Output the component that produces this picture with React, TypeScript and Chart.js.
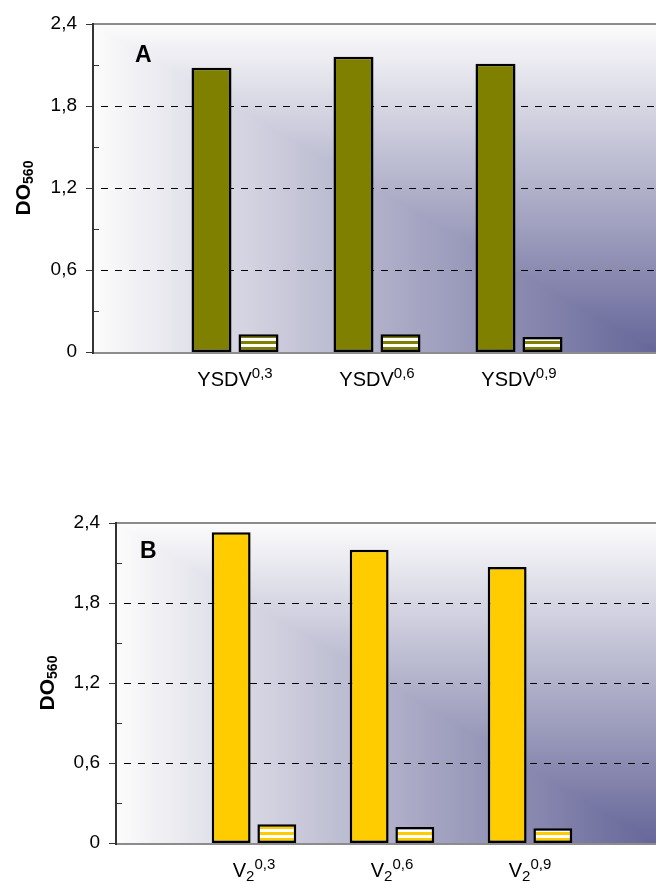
import React, { useEffect, useRef } from "react";
import { Chart, registerables } from "chart.js";

Chart.register(...registerables);

// ---------- data ----------
const categoryPositions = [1, 2, 3];

const categoriesA = ["YSDV", "YSDV", "YSDV"];
const categoriesASup = ["0,3", "0,6", "0,9"];
const seriesAMain = [2.08, 2.16, 2.11];
const seriesASmall = [0.13, 0.13, 0.11];

const categoriesB = ["V", "V", "V"];
const categoriesBSub = ["2", "2", "2"];
const categoriesBSup = ["0,3", "0,6", "0,9"];
const seriesBMain = [2.33, 2.2, 2.07];
const seriesBSmall = [0.14, 0.12, 0.11];

const yTickValues = [0, 0.6, 1.2, 1.8, 2.4];
const yTickLabels = ["0", "0,6", "1,2", "1,8", "2,4"];
const yMinorTicks = [0.3, 0.9, 1.5, 2.1];
const yGridValues = [0.6, 1.2, 1.8];
const yMax = 2.4;

const axisTitle = "DO";
const axisTitleSub = "560";

const FONT = '"Liberation Sans", Arial, Helvetica, sans-serif';

type Panel = {
  letter: string;
  letterX: number;
  letterY: number;
  left: number;
  top: number;
  bottom: number;
  canvasTop: number;
  canvasHeight: number;
  xMax: number;
  titleX: number;
  main: number[];
  small: number[];
  color: string;
  cat: string[];
  catSub: string[] | null;
  catSup: string[];
};

const panels: Panel[] = [
  {
    letter: "A",
    letterX: 135,
    letterY: 62,
    left: 93,
    top: 24,
    bottom: 352,
    canvasTop: 0,
    canvasHeight: 420,
    xMax: (656 - 93) / 142,
    titleX: 30,
    main: seriesAMain,
    small: seriesASmall,
    color: "#808000",
    cat: categoriesA,
    catSub: null,
    catSup: categoriesASup,
  },
  {
    letter: "B",
    letterX: 140,
    letterY: 558,
    left: 116,
    top: 523,
    bottom: 843,
    canvasTop: 440,
    canvasHeight: 443,
    xMax: (656 - 116) / 138,
    titleX: 54,
    main: seriesBMain,
    small: seriesBSmall,
    color: "#FFCC00",
    cat: categoriesB,
    catSub: categoriesBSub,
    catSup: categoriesBSup,
  },
];

function PanelChart({ p }: { p: Panel }) {
  const ref = useRef<HTMLCanvasElement>(null);
  useEffect(() => {
    const canvas = ref.current!;
    const c0 = canvas.getContext("2d")!;
    const bottomC = p.bottom - p.canvasTop;
    const topC = p.top - p.canvasTop;

    // striped pattern for the small bars
    const pc = document.createElement("canvas");
    pc.width = 4;
    pc.height = 6;
    const pctx = pc.getContext("2d")!;
    const last = Math.round(bottomC) - 3;
    for (let r = 0; r < 6; r++) {
      const k = (((last - r) % 6) + 6) % 6;
      pctx.fillStyle = k < 3 ? p.color : "#ffffff";
      pctx.fillRect(0, r, 4, 1);
    }
    const pattern = c0.createPattern(pc, "repeat")!;

    const decor = {
      id: "decor",
      beforeDatasetsDraw(chart: any) {
        const { ctx, chartArea: a } = chart;
        const ys = chart.scales.y;
        const L = a.left, T = a.top, R = a.right, B = a.bottom;
        const cStart = "#fcfcfc";
        const cEnd = "#666699";
        ctx.save();
        const gv = ctx.createLinearGradient(0, T, 0, B);
        gv.addColorStop(0, cStart);
        gv.addColorStop(1, cEnd);
        ctx.fillStyle = gv;
        ctx.fillRect(L, T, R - L, B - T);
        const gh = ctx.createLinearGradient(L, 0, R, 0);
        gh.addColorStop(0, cStart);
        gh.addColorStop(1, cEnd);
        ctx.beginPath();
        ctx.moveTo(L, T);
        ctx.lineTo(L, B);
        ctx.lineTo(R, B);
        ctx.closePath();
        ctx.fillStyle = gh;
        ctx.fill();

        // dashed grid
        ctx.strokeStyle = "#000";
        ctx.lineWidth = 1;
        ctx.setLineDash([7, 7]);
        ctx.lineDashOffset = 7;
        for (const v of yGridValues) {
          const y = Math.round(ys.getPixelForValue(v)) + 0.5;
          ctx.beginPath();
          ctx.moveTo(L + 1, y);
          ctx.lineTo(R, y);
          ctx.stroke();
        }
        ctx.restore();
      },
      afterDatasetsDraw(chart: any) {
        const { ctx, chartArea: a } = chart;
        const ys = chart.scales.y;
        const xs = chart.scales.x;
        const L = a.left, T = a.top, R = a.right, B = a.bottom;
        ctx.save();
        // top border & bottom axis (gray)
        ctx.strokeStyle = "#8c8c8c";
        ctx.lineWidth = 2;
        ctx.beginPath();
        ctx.moveTo(L, T);
        ctx.lineTo(R, T);
        ctx.stroke();
        ctx.beginPath();
        ctx.moveTo(L, B + 1);
        ctx.lineTo(R, B + 1);
        ctx.stroke();
        // left axis
        ctx.strokeStyle = "#333333";
        ctx.beginPath();
        ctx.moveTo(L, T - 1);
        ctx.lineTo(L, B + 2);
        ctx.stroke();
        ctx.lineWidth = 1;
        for (const v of yTickValues) {
          const y = Math.round(ys.getPixelForValue(v)) + 0.5;
          ctx.beginPath();
          ctx.moveTo(L - 7, y);
          ctx.lineTo(L, y);
          ctx.stroke();
        }
        for (const v of yMinorTicks) {
          const y = Math.round(ys.getPixelForValue(v)) + 0.5;
          ctx.beginPath();
          ctx.moveTo(L, y);
          ctx.lineTo(L + 6, y);
          ctx.stroke();
        }

        // y tick labels
        ctx.fillStyle = "#000";
        ctx.font = `19px ${FONT}`;
        ctx.textAlign = "right";
        ctx.textBaseline = "middle";
        yTickValues.forEach((v, i) => {
          ctx.fillText(yTickLabels[i], L - 16, ys.getPixelForValue(v));
        });

        // x category labels with sub/superscripts
        ctx.textAlign = "left";
        ctx.textBaseline = "alphabetic";
        const mainFont = `20px ${FONT}`;
        const smallFont = `15px ${FONT}`;
        categoryPositions.forEach((pos, i) => {
          const cx = xs.getPixelForValue(pos);
          const base = B + 34;
          ctx.font = mainFont;
          const wMain = ctx.measureText(p.cat[i]).width;
          ctx.font = smallFont;
          const wSub = p.catSub ? ctx.measureText(p.catSub[i]).width : 0;
          const wSup = ctx.measureText(p.catSup[i]).width;
          let x = cx - (wMain + wSub + wSup) / 2;
          ctx.font = mainFont;
          ctx.fillText(p.cat[i], x, base);
          x += wMain;
          ctx.font = smallFont;
          if (p.catSub) {
            ctx.fillText(p.catSub[i], x, base + 4);
            x += wSub;
          }
          ctx.fillText(p.catSup[i], x, base - 8);
        });

        // y-axis title (rotated)
        const cy = (T + B) / 2;
        ctx.save();
        ctx.translate(p.titleX, cy);
        ctx.rotate(-Math.PI / 2);
        ctx.font = `bold 21px ${FONT}`;
        const wT = ctx.measureText(axisTitle).width;
        ctx.font = `bold 14px ${FONT}`;
        const wS = ctx.measureText(axisTitleSub).width;
        let tx = -(wT + wS) / 2;
        ctx.font = `bold 21px ${FONT}`;
        ctx.fillText(axisTitle, tx, 0);
        tx += wT;
        ctx.font = `bold 14px ${FONT}`;
        ctx.fillText(axisTitleSub, tx, 3);
        ctx.restore();

        // panel letter
        ctx.font = `bold 23px ${FONT}`;
        ctx.fillText(p.letter, p.letterX, p.letterY - p.canvasTop);
        ctx.restore();
      },
    };

    const mk = (vals: number[]) =>
      categoryPositions.map((x, i) => ({ x, y: vals[i] }));

    const chart = new Chart(canvas, {
      type: "bar",
      data: {
        datasets: [
          {
            data: mk(p.main) as any,
            backgroundColor: p.color,
            borderColor: "#000",
            borderWidth: 2.5,
            borderSkipped: false,
            categoryPercentage: 0.662,
            barPercentage: 0.851,
          },
          {
            data: mk(p.small) as any,
            backgroundColor: pattern as any,
            borderColor: "#000",
            borderWidth: 2.5,
            borderSkipped: false,
            categoryPercentage: 0.662,
            barPercentage: 0.851,
          },
        ],
      },
      options: {
        responsive: false,
        animation: false,
        events: [],
        layout: {
          padding: {
            left: p.left,
            top: topC,
            right: 0,
            bottom: p.canvasHeight - bottomC,
          },
        },
        plugins: {
          legend: { display: false },
          tooltip: { enabled: false },
          title: { display: false },
        },
        scales: {
          x: {
            type: "linear",
            display: false,
            offset: false,
            grid: { offset: false },
            min: 0,
            max: p.xMax,
            afterBuildTicks: (axis: any) => {
              axis.ticks = categoryPositions.map((v) => ({ value: v }));
            },
          },
          y: {
            type: "linear",
            display: false,
            min: 0,
            max: yMax,
          },
        },
      },
      plugins: [decor],
    });
    return () => chart.destroy();
  }, []);
  return (
    <canvas
      ref={ref}
      width={656}
      height={p.canvasHeight}
      style={{
        position: "absolute",
        left: 0,
        top: p.canvasTop,
        width: 656,
        height: p.canvasHeight,
      }}
    />
  );
}

export default function App() {
  return (
    <div
      style={{
        position: "absolute",
        left: 0,
        top: 0,
        width: 656,
        height: 883,
        overflow: "hidden",
        background: "#ffffff",
      }}
    >
      {panels.map((p) => (
        <PanelChart key={p.letter} p={p} />
      ))}
    </div>
  );
}
